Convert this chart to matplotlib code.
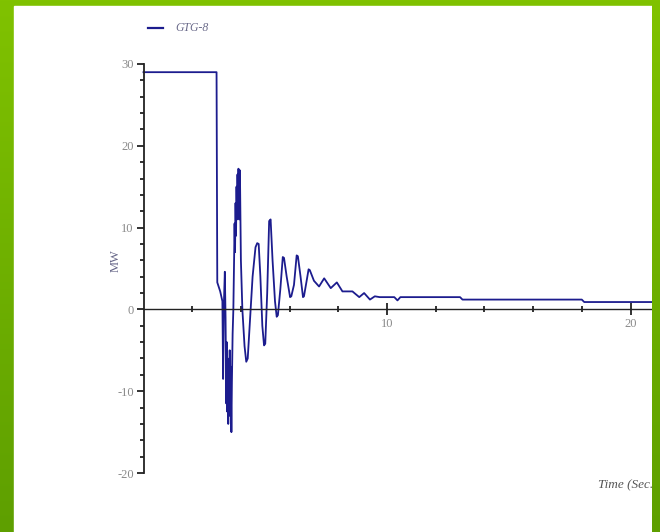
import numpy as np
import matplotlib
matplotlib.use("Agg")
import matplotlib.pyplot as plt
from matplotlib.patches import Rectangle

# GTG-8 electrical output (MW) vs time (s)
time_s = [0, 3.0, 3.03, 3.15, 3.24, 3.27, 3.30, 3.34, 3.37, 3.40,
          3.42, 3.44, 3.46, 3.48, 3.50, 3.52, 3.54, 3.56, 3.58, 3.61,
          3.63, 3.66, 3.69, 3.72, 3.74, 3.76, 3.78, 3.80, 3.82, 3.84,
          3.86, 3.88, 3.90, 3.93, 3.96, 4.00, 4.06, 4.15, 4.22, 4.28,
          4.36, 4.48, 4.60, 4.67, 4.73, 4.80, 4.88, 4.95, 5.00, 5.08,
          5.16, 5.22, 5.30, 5.40, 5.47, 5.52, 5.62, 5.72, 5.77, 5.88,
          6.02, 6.07, 6.18, 6.29, 6.34, 6.45, 6.55, 6.59, 6.70, 6.78,
          6.83, 7.0, 7.21, 7.42, 7.69, 7.94, 8.17, 8.58, 8.86, 9.06,
          9.3, 9.5, 9.7, 10.3, 10.43, 10.55, 13.0, 13.1, 18.0, 18.1,
          21.5]
mw = [29, 29, 3.3, 2.2, 1.0, -8.5, 0.5, 4.6, -1.0, -11.5,
      -4, -12.5, -6, -14, -8, -13, -5, -11, -7, -15,
      -9, -3, 0, 6, 10.5, 7, 13, 9, 15, 11,
      16.5, 12, 17.2, 11, 17.0, 6, 0, -4.5, -6.4, -6.0,
      -2, 4, 7.6, 8.1, 8.0, 4, -2, -4.4, -4.2, 2,
      10.8, 11.0, 6, 1, -0.9, -0.7, 2.5, 6.4, 6.3, 4,
      1.5, 1.6, 3, 6.6, 6.5, 4, 1.5, 1.6, 3.5, 4.9,
      4.8, 3.5, 2.8, 3.8, 2.6, 3.3, 2.2, 2.2, 1.5, 2.0,
      1.2, 1.6, 1.5, 1.5, 1.1, 1.5, 1.5, 1.2, 1.2, 0.9,
      0.9]

W, H = 660, 532
fig = plt.figure(figsize=(W / 100, H / 100), dpi=100)

# green gradient frame + white panel
grad = np.linspace(0, 1, 256).reshape(-1, 1)
green = matplotlib.colors.LinearSegmentedColormap.from_list("g", ["#80c200", "#5e9f00"])
bg = fig.add_axes([0, 0, 1, 1], zorder=0)
bg.imshow(grad, cmap=green, aspect="auto", extent=[0, 1, 0, 1])
bg.add_patch(Rectangle((14 / W, 0), (652 - 14) / W, (H - 6) / H, color="white"))
bg.set_xlim(0, 1)
bg.set_ylim(0, 1)
bg.axis("off")

# main axes: x 0 at px 143.5, 24.35 px per second; y 30 at px 64, -20 at px 473
x0, sx = 143.5, 24.35
left = x0 / W
width = (W - x0) / W
xmax = (W - x0) / sx
bottom = (H - 473) / H
top = (H - 64) / H
ax = fig.add_axes([left, bottom, width, top - bottom], zorder=1)
ax.patch.set_alpha(0)

line_col = "#1c1c8e"
ax.plot(time_s, mw, color=line_col, lw=1.3, label="GTG-8", clip_on=False)

ax.set_xlim(0, xmax)
ax.set_ylim(-20, 30)

for s in ["top", "right"]:
    ax.spines[s].set_visible(False)
ax.spines["bottom"].set_position(("data", 0))
ax.spines["left"].set_bounds(-20, 30)
ax.spines["left"].set_color("#222222")
ax.spines["bottom"].set_color("#222222")
ax.spines["left"].set_linewidth(1.3)
ax.spines["bottom"].set_linewidth(1.0)

ax.set_yticks([-20, -10, 0, 10, 20, 30])
ax.set_yticks(np.arange(-20, 31, 2), minor=True)
ax.set_xticks([10, 20])
ax.set_xticks(np.arange(2, 21, 2), minor=True)

tick_font = dict(family="Liberation Serif", size=9, color="#8a8a8a")
ax.set_yticklabels(["-20", "-10", "0", "10", "20", "30"], **tick_font)
ax.set_xticklabels(["10", "20"], **tick_font)
ax.tick_params(axis="y", which="major", direction="out", length=5, width=1.3,
               color="#222222", pad=2)
ax.tick_params(axis="y", which="minor", direction="out", length=3, width=1.3,
               color="#222222")
ax.tick_params(axis="x", which="major", direction="inout", length=9, width=1.3,
               color="#222222", pad=2)
ax.tick_params(axis="x", which="minor", direction="inout", length=5, width=1.3,
               color="#222222")

ax.text(-1.15, 6, "MW", rotation=90, ha="center", va="center",
        family="Liberation Serif", size=9, color="#666688")

# legend drawn above the axes
fig.add_artist(plt.Line2D([148 / W, 163 / W], [(H - 28) / H] * 2,
                          color=line_col, lw=1.6))
fig.text(175 / W, (H - 28) / H, "GTG-8", ha="left", va="center",
         family="Liberation Serif", style="italic", size=8.5, color="#6a6a8a")

fig.text(598 / W, (H - 485) / H, "Time (Sec.)", ha="left", va="center",
         family="Liberation Serif", style="italic", size=9.5, color="#555555",
         zorder=2)

# right green strip covers the clipped edge
rs = fig.add_axes([652 / W, 0, (W - 652) / W, 1], zorder=10)
rs.imshow(grad, cmap=green, aspect="auto", extent=[0, 1, 0, 1])
rs.axis("off")

fig.savefig("out.png", dpi=100)
